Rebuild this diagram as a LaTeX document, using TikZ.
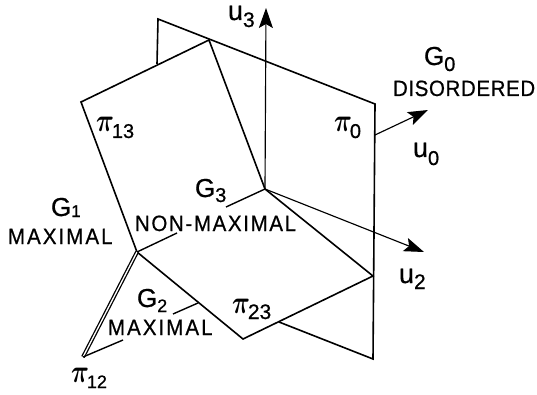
\documentclass[tikz,border=0pt]{standalone}
\usepackage{graphicx}
\usepackage{fontspec}
\setmainfont{Liberation Sans}[FakeBold=0.7]
\usetikzlibrary{arrows.meta}
\newcommand{\SubL}[5]{{\fontsize{#2}{#2}\selectfont #1}\raisebox{-#5pt}{\fontsize{#4}{#4}\selectfont #3}}
\newcommand{\PiL}[2]{\scalebox{1}[1.3]{\fontsize{31}{31}\selectfont\boldmath$\pi$}\kern-2pt\raisebox{-6pt}{\fontsize{#2}{#2}\selectfont #1}}
\newcommand{\Cap}[2]{\scalebox{1}[1.08]{\fontsize{20.5}{20.5}\selectfont\addfontfeatures{LetterSpace=#1}#2}}
\tikzset{
  plane/.style={line width=1.6pt,line join=miter},
  axis/.style={line width=1.15pt,-{Stealth[length=20pt,width=14pt,inset=4pt]}},
  tick/.style={line width=1.4pt},
  ridge/.style={line width=1.3pt,double=white,double distance=1.3pt},
  lab/.style={anchor=base west,inner sep=0pt,outer sep=0pt}
}
\begin{document}
\begin{tikzpicture}[x=1pt,y=-1pt]
\useasboundingbox (0,0) rectangle (537,395);
% vertices
\coordinate (A) at (158,19);
\coordinate (Ab) at (157,64);
\coordinate (P) at (209,40);
\coordinate (TR) at (375,104);
\coordinate (BR) at (373,359);
\coordinate (Q) at (279,322);
\coordinate (R) at (373,276);
\coordinate (B) at (243,339);
\coordinate (C) at (137,252);
\coordinate (W) at (81,102);
\coordinate (D) at (83,357);
\coordinate (O) at (265,189);
\coordinate (T3) at (266,8);
\coordinate (U0s) at (375,135);
\coordinate (T0) at (428,110);
\coordinate (T2) at (424,252);
\coordinate (k1) at (177,233);
\coordinate (k2) at (226,207);
\coordinate (k3) at (198,303);
\coordinate (k4) at (173,314);
\coordinate (k5) at (123,340);
% back plane
\draw[plane] (Ab) -- (A) -- (TR) -- (BR) -- (Q);
% front planes
\draw[plane] (W) -- (P) -- (O) -- (R) -- (B) -- (C) -- cycle;
% axes
\draw[axis] (O) -- (T3);
\draw[axis] (O) -- (T2);
\draw[axis] (U0s) -- (T0);
% ridge
\draw[ridge] (C) -- (D);
% leaders
\draw[tick] (C) -- (k1);
\draw[tick] (O) -- (k2);
\draw[tick] (k3) -- (k4);
\draw[tick] (D) -- (k5);
% labels
\node[lab] (nu3) at (228,20) {\SubL{u}{27}{3}{21}{7}};
\node[lab] (nG0) at (424,65) {\SubL{G}{26}{0}{20}{6}};
\node[lab] (ndis) at (393,96) {\Cap{3}{DISORDERED}};
\node[lab] (nu0) at (413,157) {\SubL{u}{27}{0}{20}{8}};
\node[lab] (nu2) at (399,283) {\SubL{u}{27}{2}{21}{6}};
\node[lab] (nG3) at (195,197) {\SubL{G}{26}{3}{20}{5}};
\node[lab] (nnm) at (135,231) {\Cap{8}{NON-MAXIMAL}};
\node[lab] (nG1) at (51,216) {\SubL{G}{26}{1}{17}{1}};
\node[lab] (nm1) at (8,244) {\Cap{10}{MAXIMAL}};
\node[lab] (nG2) at (137,307) {\SubL{G}{26}{2}{18}{5}};
\node[lab] (nm2) at (108,335) {\Cap{10}{MAXIMAL}};
\node[lab] (np0) at (334,132) {\PiL{0}{20}};
\node[lab] (np13) at (96,132) {\PiL{13}{20}};
\node[lab] (np23) at (232,313) {\PiL{23}{21}};
\node[lab] (np12) at (71,382) {\PiL{12}{18}};
\end{tikzpicture}
\end{document}
